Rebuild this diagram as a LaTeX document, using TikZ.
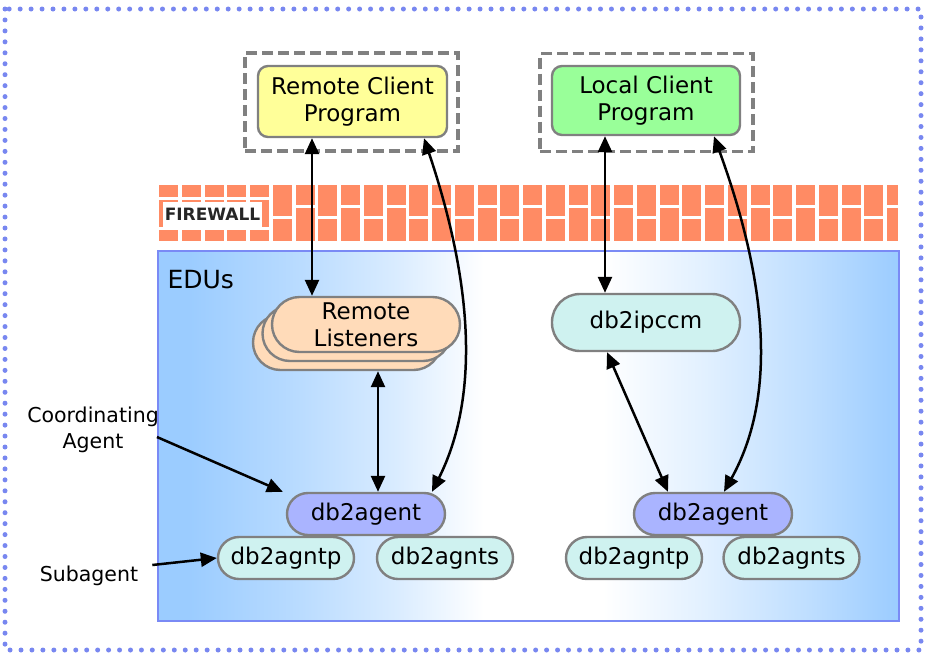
\documentclass[tikz,border=0pt]{standalone}
\usepackage{fontspec}
\setmainfont{DejaVu Sans}
\usetikzlibrary{arrows.meta,calc}

\definecolor{edublue}{RGB}{155,204,255}
\definecolor{edurule}{RGB}{122,138,245}
\definecolor{dotblue}{RGB}{120,135,240}
\definecolor{brickc}{RGB}{255,139,100}
\definecolor{nodeline}{RGB}{128,128,128}
\definecolor{clientyellow}{RGB}{255,255,153}
\definecolor{clientgreen}{RGB}{153,255,153}
\definecolor{listenpeach}{RGB}{255,219,185}
\definecolor{procycan}{RGB}{207,242,240}
\definecolor{agentblue}{RGB}{170,180,255}

% blue at both sides, fading to white in the middle of the EDU area
\pgfdeclarehorizontalshading{edushade}{100bp}{%
  color(0bp)=(edublue); color(27bp)=(edublue);
  color(34bp)=(edublue!72!white); color(41bp)=(edublue!38!white);
  color(47bp)=(white); color(55bp)=(white);
  color(62bp)=(edublue!30!white); color(69bp)=(edublue!65!white);
  color(75bp)=(edublue); color(100bp)=(edublue)}

\begin{document}
\begin{tikzpicture}[x=1pt,y=-1pt,
  labelfont/.style={font=\fontsize{23}{27}\selectfont},
  notefont/.style={font=\fontsize{20.5}{26}\selectfont},
  client/.style={labelfont, align=center, draw=nodeline, line width=2.4pt,
    rounded corners=10pt, inner sep=0pt},
  dashbox/.style={draw=nodeline, line width=3.2pt, dash pattern=on 11pt off 5pt,
    minimum width=213pt, minimum height=98pt, inner sep=0pt},
  pill/.style={labelfont, align=center, draw=nodeline, line width=2.4pt, inner sep=0pt},
  listen/.style={pill, fill=listenpeach, rounded corners=27.5pt,
    minimum width=188pt, minimum height=55pt},
  agent/.style={pill, fill=agentblue, rounded corners=21pt,
    minimum width=158pt, minimum height=42pt},
  proc/.style={pill, fill=procycan, rounded corners=21pt,
    minimum width=136pt, minimum height=42pt},
  brick/.style={fill=brickc},
  link/.style={line width=2.5pt, {Triangle[length=16pt,width=14pt]}-{Triangle[length=16pt,width=14pt]}},
  note/.style={line width=2.5pt, -{Triangle[length=16pt,width=14pt]}}
]
\useasboundingbox (0,0) rectangle (937,654);

% outer dotted frame
\draw[dotblue, line width=5pt, line cap=round, dash pattern=on 0pt off 10.95pt]
  (5,9) rectangle (921,650);

% EDU area
\path[shade, shading=edushade] (158,251) rectangle (899,621);
\draw[edurule, line width=2pt] (158,251) rectangle (899,621);
\node[anchor=west, font=\fontsize{25}{27}\selectfont] (edus) at (164,280) {EDUs};

% firewall of bricks
\foreach \i in {0,...,32}{
  \pgfmathsetmacro{\bx}{159+22.75*\i}
  \pgfmathsetmacro{\bw}{min(19,898-\bx)}
  \ifnum\i<5
    \fill[brick] (\bx,185) rectangle ++(\bw,12);
    \fill[brick] (\bx,200) rectangle ++(\bw,27);
    \fill[brick] (\bx,230) rectangle ++(\bw,11);
  \else
    \ifodd\i
      \fill[brick] (\bx,185) rectangle ++(\bw,31);
      \fill[brick] (\bx,219) rectangle ++(\bw,22);
    \else
      \fill[brick] (\bx,185) rectangle ++(\bw,20);
      \fill[brick] (\bx,208) rectangle ++(\bw,33);
    \fi
  \fi
}
\node[fill=white, inner sep=0pt, minimum width=99pt, minimum height=25pt,
  font=\fontsize{17}{17}\selectfont\bfseries, text=black!85] (fwlabel) at (212.5,214) {FIREWALL};

% client programs
\node[dashbox] (rbox) at (351.5,102) {};
\node[dashbox] (lbox) at (646.5,102.5) {};
\node[client, fill=clientyellow, minimum width=189pt, minimum height=71pt] (rcp) at (352.5,101.5) {Remote Client\\Program};
\node[client, fill=clientgreen, minimum width=188pt, minimum height=69pt] (lcp) at (646,100.5) {Local Client\\Program};

% listeners (stacked) and db2ipccm
\node[listen] (listenC) at (347,342.5) {};
\node[listen] (listenB) at (356.5,333.5) {};
\node[listen] (listen) at (366,324.5) {Remote\\Listeners};
\node[proc, minimum width=188pt, minimum height=57pt, rounded corners=28pt] (ipccm) at (646,322.5) {db2ipccm};

% agents and subagents
\node[agent] (agentL) at (366,514) {db2agent};
\node[proc] (agntpL) at (286,558) {db2agntp};
\node[proc] (agntsL) at (445,558) {db2agnts};
\node[agent] (agentR) at (713,514) {db2agent};
\node[proc] (agntpR) at (634,558) {db2agntp};
\node[proc] (agntsR) at (791.5,558) {db2agnts};

% annotations
\node[notefont, align=center, inner sep=1pt] (coord) at (93,430) {Coordinating\\Agent};
\node[notefont, inner sep=1pt] (sub) at (89,576) {Subagent};

% connections
\draw[link] ([xshift=-40.5pt]rcp.south) -- ([xshift=-54pt]listen.north);
\draw[link] ([xshift=31pt]listenC.south) -- ([xshift=12pt]agentL.north);
\draw[link] ([xshift=71.5pt]rcp.south) .. controls (475,290) and (478,400) .. ([xshift=66pt]agentL.north);
\draw[link] ([xshift=-41pt]lcp.south) -- ([xshift=-41pt]ipccm.north);
\draw[link] ([xshift=-39pt]ipccm.south) -- ([xshift=-45pt]agentR.north);
\draw[link] ([xshift=68pt]lcp.south) .. controls (770,290) and (775,400) .. ([xshift=11pt]agentR.north);

\draw[note] ([xshift=-3pt,yshift=-7pt]coord.east) -- ([xshift=-3pt]agentL.north west);
\draw[note] ([xshift=13pt,yshift=11pt]sub.east) -- (agntpL.west);
\end{tikzpicture}
\end{document}
